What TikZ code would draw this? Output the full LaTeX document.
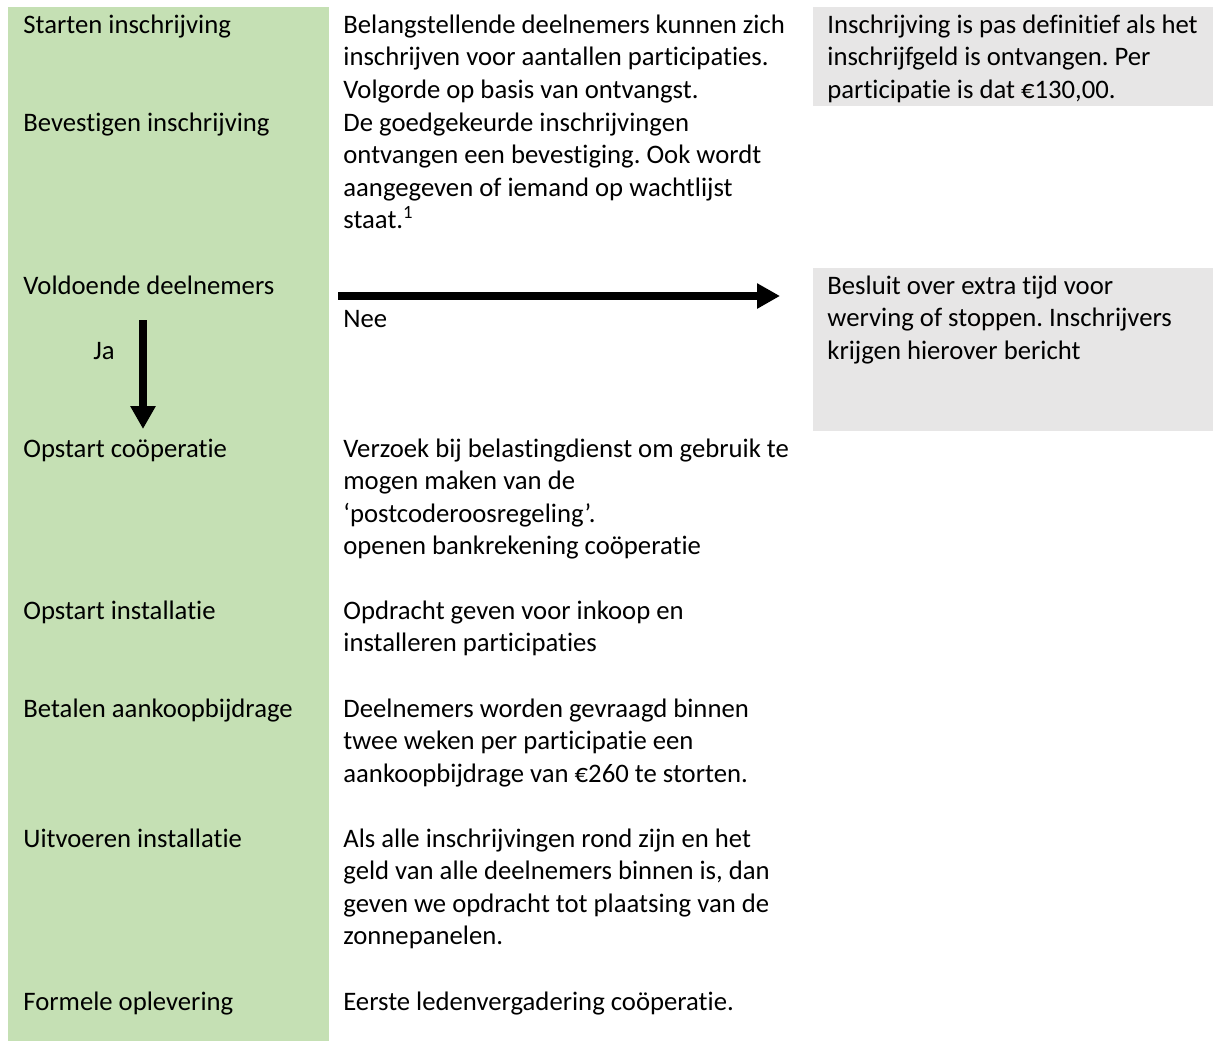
\documentclass[tikz,border=0pt]{standalone}
\usepackage{fontspec}
\setmainfont{Carlito}[Ligatures=NoCommon]
\frenchspacing
\usetikzlibrary{arrows.meta}

\definecolor{fasegroen}{HTML}{C5E0B4}
\definecolor{notagrijs}{HTML}{E7E6E6}

\begin{document}
\begin{tikzpicture}[x=0.5pt,y=-0.5pt,
  tekst/.style={anchor=north west,yshift=11.41pt,inner sep=0pt,align=left,
    execute at begin node=\strut,font=\fontsize{13.35}{16.3}\selectfont},
  blok/.style={tekst,yshift=-2pt},
  pijl/.style={line width=4pt,-{Triangle[length=11.5pt,width=12pt]}}]

\useasboundingbox (0,0) rectangle (1213,1041);

% achtergrond
\fill[fasegroen] (8,7) rectangle (329,1041);
\fill[notagrijs] (813,7) rectangle (1213,106);
\fill[notagrijs] (813,268) rectangle (1213,431);

% fasen
\node[tekst] (starten) at (23,33) {Starten inschrijving};
\node[tekst] (bevestigen) at (23,131) {Bevestigen inschrijving};
\node[tekst] (voldoende) at (23,294) {Voldoende deelnemers};
\node[tekst] (coop) at (23,457) {Opstart coöperatie};
\node[tekst] (installatie) at (23,619) {Opstart installatie};
\node[tekst] (betalen) at (23,717) {Betalen aankoopbijdrage};
\node[tekst] (uitvoeren) at (23,847) {Uitvoeren installatie};
\node[tekst] (oplevering) at (23,1010) {Formele oplevering};

% toelichting
\node[blok] (belang) at (343,33) {Belangstellende deelnemers kunnen zich\\inschrijven voor aantallen participaties.\\Volgorde op basis van ontvangst.};
\node[blok] (goedgekeurd) at (343,131) {De goedgekeurde inschrijvingen\\ontvangen een bevestiging. Ook wordt\\aangegeven of iemand op wachtlijst\\staat.\textsuperscript{1}};
\node[blok] (verzoek) at (343,457) {Verzoek bij belastingdienst om gebruik te\\mogen maken van de\\‘postcoderoosregeling’.\\openen bankrekening coöperatie};
\node[blok] (opdracht) at (343,619) {Opdracht geven voor inkoop en\\installeren participaties};
\node[blok] (gevraagd) at (343,717) {Deelnemers worden gevraagd binnen\\twee weken per participatie een\\aankoopbijdrage van €260 te storten.};
\node[blok] (geld) at (343,847) {Als alle inschrijvingen rond zijn en het\\geld van alle deelnemers binnen is, dan\\geven we opdracht tot plaatsing van de\\zonnepanelen.};
\node[tekst] (ledenverg) at (343,1010) {Eerste ledenvergadering coöperatie.};

% opmerkingen
\node[blok] (definitief) at (827,33) {Inschrijving is pas definitief als het\\inschrijfgeld is ontvangen. Per\\participatie is dat €130,00.};
\node[blok] (besluit) at (827,294) {Besluit over extra tijd voor\\werving of stoppen. Inschrijvers\\krijgen hierover bericht};

% beslissing
\coordinate (neeA) at (338,296);
\coordinate (neeB) at (780,296);
\coordinate (jaA) at (143,320);
\coordinate (jaB) at (143,429);
\draw[pijl] (neeA) -- (neeB);
\draw[pijl] (jaA) -- (jaB);
\node[tekst] (nee) at (343,327) {Nee};
\node[tekst] (ja) at (93,359) {Ja};

\end{tikzpicture}
\end{document}
